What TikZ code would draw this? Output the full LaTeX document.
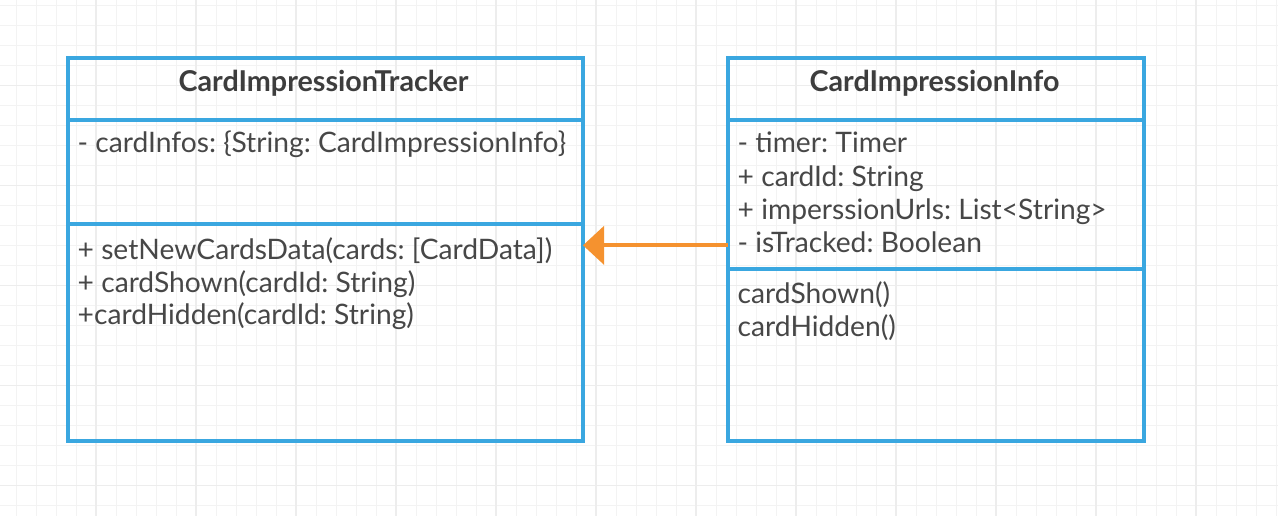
\documentclass[tikz,border=0pt]{standalone}
\usepackage{fontspec}
\setmainfont{Lato}
\frenchspacing
\usetikzlibrary{arrows.meta,positioning}

\begin{document}
\begin{tikzpicture}[x=1pt,y=-1pt,
  umlbox/.style={draw=umlblue,line width=3.5,inner sep=0,outer sep=0,anchor=north west},
  umlname/.style={anchor=base,inner sep=0,text=namegray,font=\fontsize{28.7}{33}\selectfont\bfseries},
  umltext/.style={anchor=base west,inner sep=0,text=textgray,font=\fontsize{28.2}{33}\selectfont},
  assoc/.style={draw=linkorange,line width=3.8,-{Triangle[length=21,width=38]}},
  gridminor/.style={draw=gridlight,line width=1},
  gridmajor/.style={draw=griddark,line width=1.2}]
\definecolor{umlblue}{HTML}{3AA7E0}
\definecolor{linkorange}{HTML}{F5922F}
\definecolor{namegray}{HTML}{3D3D3D}
\definecolor{textgray}{HTML}{474747}
\definecolor{gridlight}{HTML}{F3F3F3}
\definecolor{griddark}{HTML}{EDEDED}
\fill[white] (0,0) rectangle (1278,516);
\useasboundingbox (0,0) rectangle (1278,516);
% background grid
\foreach \gx in {16,36,...,1276} {\draw[gridminor] (\gx,0) -- (\gx,516);}
\foreach \gy in {5.5,25.5,...,516} {\draw[gridminor] (0,\gy) -- (1278,\gy);}
\foreach \gx in {96,196,...,1276} {\draw[gridmajor] (\gx,0) -- (\gx,516);}
\foreach \gy in {85.5,185.5,...,516} {\draw[gridmajor] (0,\gy) -- (1278,\gy);}

% CardImpressionTracker
\node[umlbox,minimum width=515,minimum height=62] (trackerHead) at (68,58) {};
\node[umlbox,minimum width=515,minimum height=104,below=0pt of trackerHead] (trackerAttrs) {};
\node[umlbox,minimum width=515,minimum height=217,below=0pt of trackerAttrs] (trackerOps) {};
\node[umlname] (trackerName) at (323.5,92) {CardImpressionTracker};
\node[umltext] (trackerAttr0) at (77.5,153) {- cardInfos: \{String: CardImpressionInfo\}};
\foreach \txt [count=\i from 0] in {{+ setNewCardsData(cards: [CardData])},{+ cardShown(cardId: String)},{+cardHidden(cardId: String)}}
  {\node[umltext] (trackerOp\i) at (77.5,{259.5+32.5*\i}) {\txt};}

% CardImpressionInfo
\node[umlbox,minimum width=416,minimum height=62] (infoHead) at (728,58) {};
\node[umlbox,minimum width=416,minimum height=149,below=0pt of infoHead] (infoAttrs) {};
\node[umlbox,minimum width=416,minimum height=172,below=0pt of infoAttrs] (infoOps) {};
\node[umlname] (infoName) at (934.5,92) {CardImpressionInfo};
\foreach \txt [count=\i from 0] in {{- timer: Timer},{+ cardId: String},{+ imperssionUrls: List<String>},{- isTracked: Boolean}}
  {\node[umltext] (infoAttr\i) at (737.5,{153+33.2*\i}) {\txt};}
\foreach \txt [count=\i from 0] in {cardShown(),cardHidden()}
  {\node[umltext] (infoOp\i) at (737.5,{303+33.2*\i}) {\txt};}

\coordinate (linkLevel) at ([yshift=-3pt]infoAttr3.center);
\draw[assoc] (infoAttrs.west |- linkLevel) -- (trackerOps.east |- linkLevel);
\end{tikzpicture}
\end{document}
